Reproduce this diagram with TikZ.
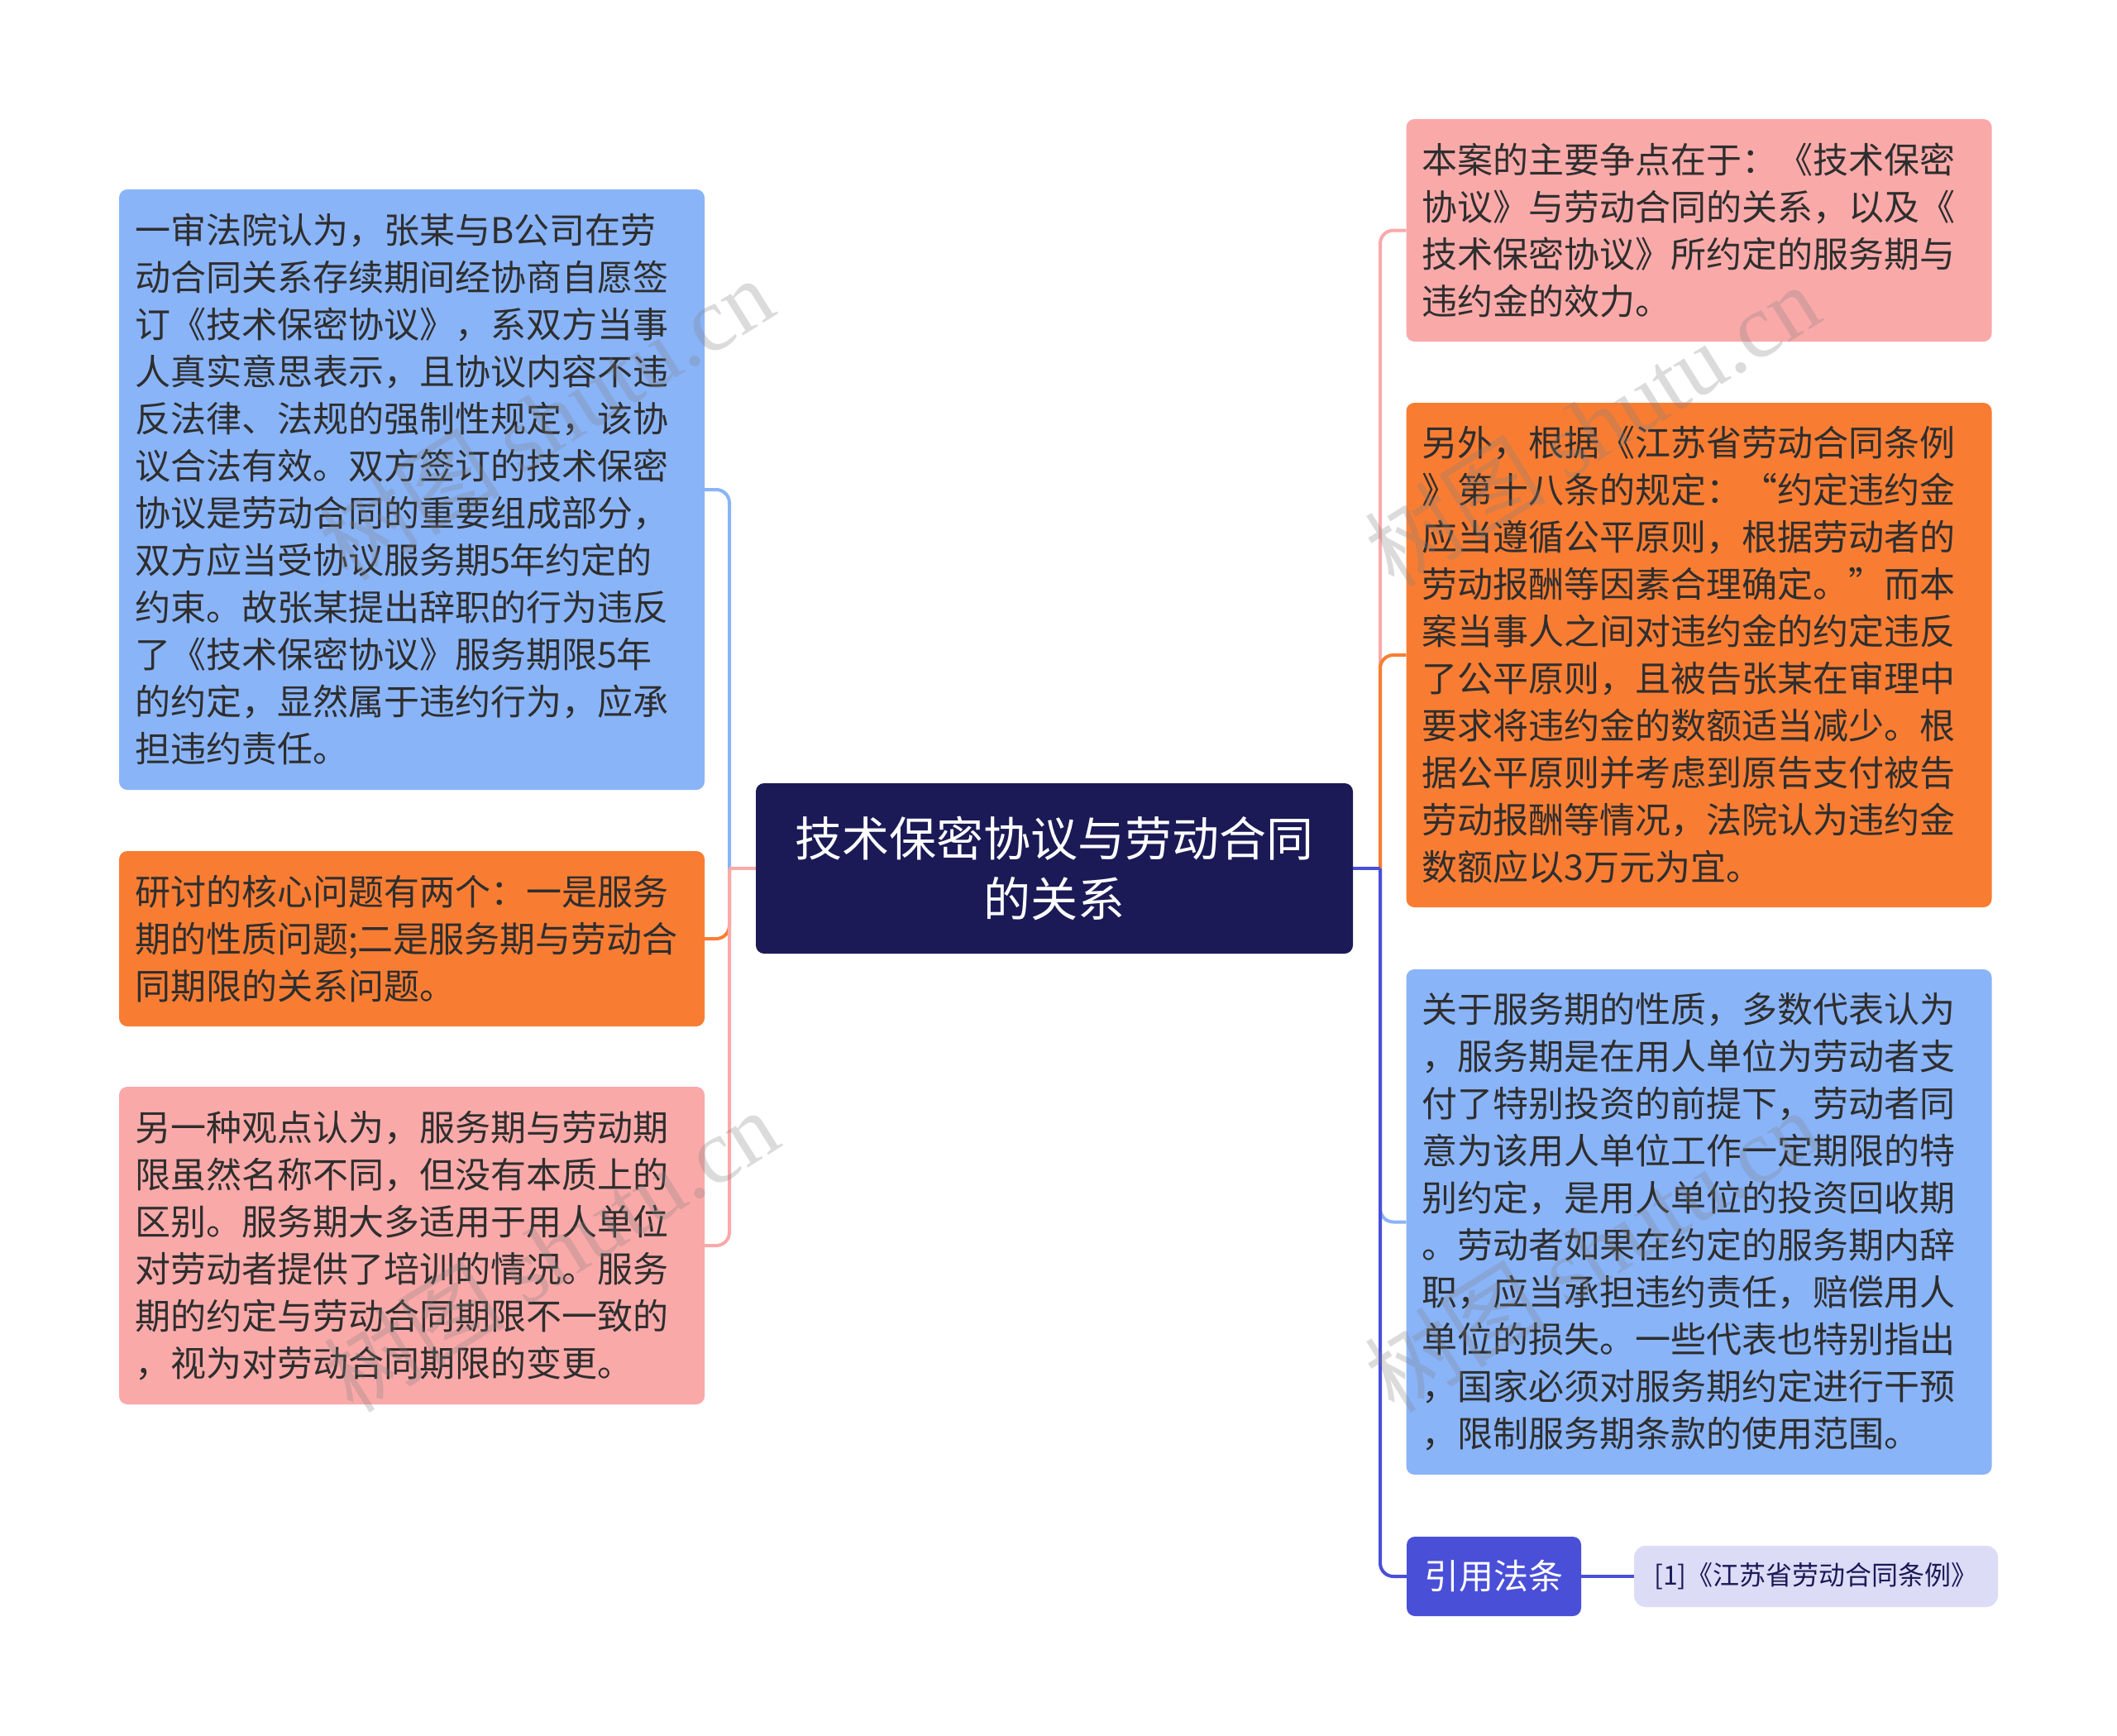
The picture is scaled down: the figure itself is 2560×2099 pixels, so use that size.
\documentclass[tikz,border=0pt]{standalone}
\usepackage{fontspec}
\setmainfont{Noto Sans CJK SC}
\newfontfamily\wmfont{Liberation Serif}
\definecolor{bxblue}{HTML}{8AB4F8}
\definecolor{bxorange}{HTML}{F87D33}
\definecolor{bxpink}{HTML}{FAA9A9}
\definecolor{bxcenter}{HTML}{1B1A57}
\definecolor{bxdark}{HTML}{4A4FD8}
\definecolor{bxlight}{HTML}{DCDCF7}
\definecolor{txt}{HTML}{2E2E2E}
\begin{document}
\begin{tikzpicture}[x=1pt,y=-1pt,
  box/.style={rounded corners=10pt, inner xsep=19pt, inner ysep=0pt, text width=670pt, align=left,
    font=\fontsize{43}{57}\selectfont, text=txt, anchor=center},
  ln/.style={line width=4pt},
  wm/.style={text=gray, opacity=0.28, font=\fontsize{110}{120}\selectfont, rotate=32}]
\useasboundingbox[fill=white] (0,0) rectangle (2560,2099);

% centre
\node[fill=bxcenter, rounded corners=10pt, minimum width=722pt, minimum height=206pt, text=white,
  align=center, font=\fontsize{57}{73}\selectfont, inner sep=0pt] (C) at (1275,1050)
  {技术保密协议与劳动合同\\的关系};

% left boxes
\node[box, fill=bxblue, minimum height=726pt] (L1) at (498,592)
  {一审法院认为，张某与B公司在劳\\动合同关系存续期间经协商自愿签\\订《技术保密协议》，系双方当事\\人真实意思表示，且协议内容不违\\反法律、法规的强制性规定，该协\\议合法有效。双方签订的技术保密\\协议是劳动合同的重要组成部分，\\双方应当受协议服务期5年约定的\\约束。故张某提出辞职的行为违反\\了《技术保密协议》服务期限5年\\的约定，显然属于违约行为，应承\\担违约责任。};
\node[box, fill=bxorange, minimum height=212pt] (L2) at (498,1135)
  {研讨的核心问题有两个：一是服务\\期的性质问题;二是服务期与劳动合\\同期限的关系问题。};
\node[box, fill=bxpink, minimum height=384pt] (L3) at (498,1506)
  {另一种观点认为，服务期与劳动期\\限虽然名称不同，但没有本质上的\\区别。服务期大多适用于用人单位\\对劳动者提供了培训的情况。服务\\期的约定与劳动合同期限不一致的\\，视为对劳动合同期限的变更。};

% right boxes
\node[box, fill=bxpink, minimum height=269pt] (R1) at (2054.5,278.5)
  {本案的主要争点在于：《技术保密\\协议》与劳动合同的关系，以及《\\技术保密协议》所约定的服务期与\\违约金的效力。};
\node[box, fill=bxorange, minimum height=610pt] (R2) at (2054.5,792)
  {另外，根据《江苏省劳动合同条例\\》第十八条的规定：“约定违约金\\应当遵循公平原则，根据劳动者的\\劳动报酬等因素合理确定。”而本\\案当事人之间对违约金的约定违反\\了公平原则，且被告张某在审理中\\要求将违约金的数额适当减少。根\\据公平原则并考虑到原告支付被告\\劳动报酬等情况，法院认为违约金\\数额应以3万元为宜。};
\node[box, fill=bxblue, minimum height=611pt] (R3) at (2054.5,1477.5)
  {关于服务期的性质，多数代表认为\\，服务期是在用人单位为劳动者支\\付了特别投资的前提下，劳动者同\\意为该用人单位工作一定期限的特\\别约定，是用人单位的投资回收期\\。劳动者如果在约定的服务期内辞\\职，应当承担违约责任，赔偿用人\\单位的损失。一些代表也特别指出\\，国家必须对服务期约定进行干预\\，限制服务期条款的使用范围。};
\node[fill=bxdark, rounded corners=10pt, minimum width=211pt, minimum height=96pt, inner sep=0pt,
  text=white, font=\fontsize{42}{50}\selectfont] (R4) at (1806.5,1906) {引用法条};
\node[fill=bxlight, rounded corners=14pt, minimum width=440pt, minimum height=74pt, inner sep=0pt,
  text=bxcenter, font=\fontsize{32}{40}\selectfont] (R5) at (2196,1906) {[1]《江苏省劳动合同条例》};

% connectors
\coordinate (jl) at (882,1050);
\coordinate (jr) at (1669,1050);
\draw[ln, bxblue] (C.west) -- (jl);
\draw[ln, bxblue, rounded corners=16pt] (jl) |- (L1.east);
\draw[ln, bxorange] (C.west) -- (jl);
\draw[ln, bxorange, rounded corners=16pt] (jl) |- (L2.east);
\draw[ln, bxpink] (C.west) -- (jl);
\draw[ln, bxpink, rounded corners=16pt] (jl) |- (L3.east);

\draw[ln, bxpink] (C.east) -- (jr);
\draw[ln, bxpink, rounded corners=16pt] (jr) |- (R1.west);
\draw[ln, bxorange] (C.east) -- (jr);
\draw[ln, bxorange, rounded corners=16pt] (jr) |- (R2.west);
\draw[ln, bxblue] (C.east) -- (jr);
\draw[ln, bxblue, rounded corners=16pt] (jr) |- (R3.west);
\draw[ln, bxdark] (C.east) -- (jr);
\draw[ln, bxdark, rounded corners=16pt] (jr) |- (R4.west);
\draw[ln, bxdark] (R4.east) -- (R5.west);

% watermarks
\node[wm] (w1) at (660,506) {树图 {\wmfont shutu.cn}};
\node[wm] (w2) at (666,1512) {树图 {\wmfont shutu.cn}};
\node[wm] (w3) at (1925,514) {树图 {\wmfont shutu.cn}};
\node[wm] (w4) at (1925,1512) {树图 {\wmfont shutu.cn}};
\end{tikzpicture}
\end{document}
